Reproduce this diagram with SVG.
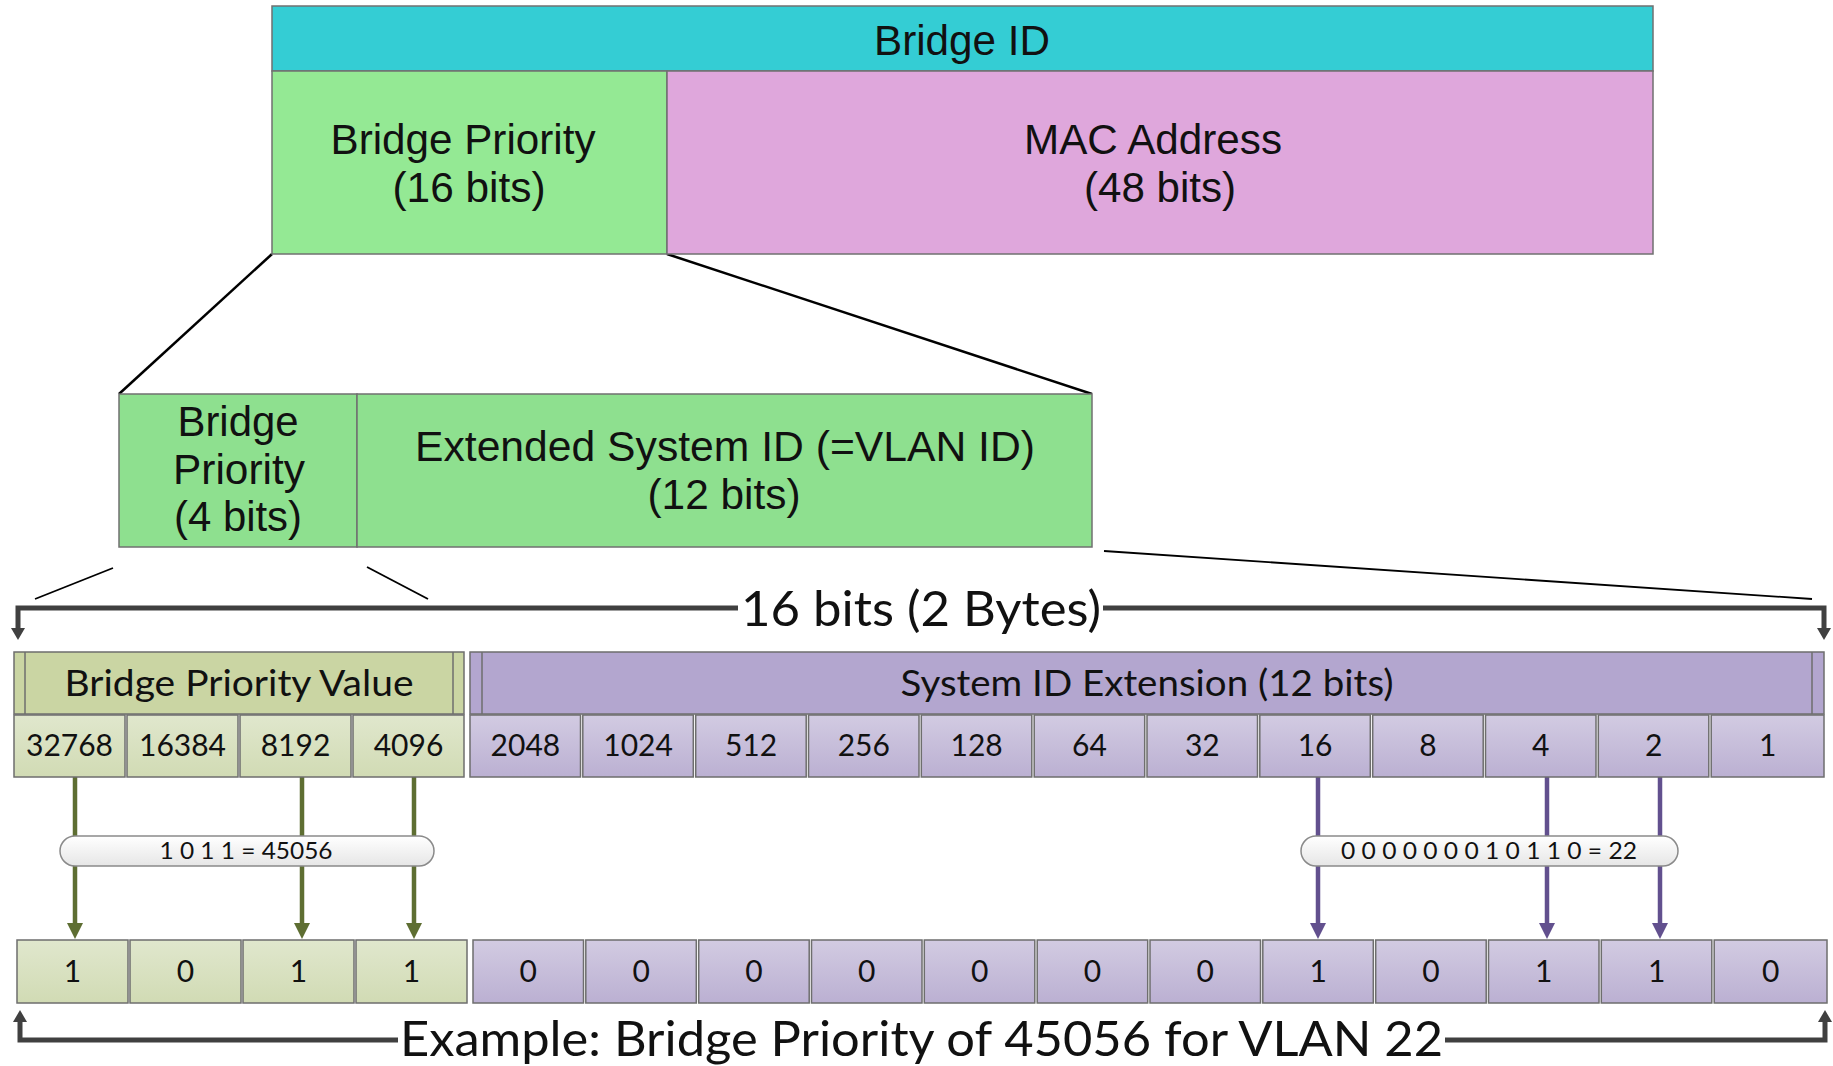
<svg xmlns="http://www.w3.org/2000/svg" width="1833" height="1066" viewBox="0 0 1833 1066">
<defs>
<style>
.box{stroke:#707070;stroke-width:1.5}
.t1{font-family:"Liberation Sans",Arial,sans-serif;font-size:42px;fill:#111;text-anchor:middle}
.t2{font-family:Lato,"Open Sans",sans-serif;fill:#111;text-anchor:middle}
.hdr{font-size:37px}
.num{font-size:30px}
.pilltxt{font-size:24px}
.big{font-size:48px}
.gcell{fill:url(#gg);stroke:#6e6e6e;stroke-width:1.5}
.pcell{fill:url(#pg);stroke:#6e6e6e;stroke-width:1.5}
.pill{fill:url(#wg);stroke:#8a8a8a;stroke-width:1.5}
.ga{stroke:#5e6e32;stroke-width:4.5;fill:none;marker-end:url(#ag)}
.gl{stroke:#5e6e32;stroke-width:4.5;fill:none}
.pa{stroke:#62508e;stroke-width:4.5;fill:none;marker-end:url(#ap)}
.bk{stroke:#404040;stroke-width:5;fill:none;marker-end:url(#ak)}
.zl{stroke:#000;fill:none}
.inner{stroke:#6e6e6e;stroke-width:1.5}
</style>
<linearGradient id="gg" x1="0" y1="0" x2="0" y2="1"><stop offset="0" stop-color="#e0e7cd"/><stop offset="1" stop-color="#d1dbb4"/></linearGradient>
<linearGradient id="pg" x1="0" y1="0" x2="0" y2="1"><stop offset="0" stop-color="#d2cbe2"/><stop offset="1" stop-color="#bbb0d2"/></linearGradient>
<linearGradient id="wg" x1="0" y1="0" x2="0" y2="1"><stop offset="0" stop-color="#ffffff"/><stop offset="1" stop-color="#e6e6e6"/></linearGradient>
<marker id="ag" markerUnits="userSpaceOnUse" markerWidth="17" markerHeight="16" refX="0" refY="8" orient="auto"><path d="M0,0 L16,8 L0,16 z" fill="#5e6e32"/></marker>
<marker id="ap" markerUnits="userSpaceOnUse" markerWidth="17" markerHeight="16" refX="0" refY="8" orient="auto"><path d="M0,0 L16,8 L0,16 z" fill="#62508e"/></marker>
<marker id="ak" markerUnits="userSpaceOnUse" markerWidth="13" markerHeight="14" refX="0" refY="7" orient="auto"><path d="M0,0 L12,7 L0,14 z" fill="#404040"/></marker>
</defs>
<rect width="1833" height="1066" fill="#fff"/>

<g id="connectors">
<line class="zl" stroke-width="2.5" x1="272" y1="254" x2="119" y2="394"/>
<line class="zl" stroke-width="2.5" x1="667" y1="254" x2="1092" y2="394"/>
<line class="zl" stroke-width="1.8" x1="113" y1="568" x2="35" y2="599"/>
<line class="zl" stroke-width="1.8" x1="367" y1="567" x2="428" y2="599"/>
<line class="zl" stroke-width="1.8" x1="1104" y1="551" x2="1812" y2="599"/>
<path class="bk" d="M738,608 H18 V628"/>
<path class="bk" d="M1103,608 H1824 V628"/>
<path class="bk" d="M398,1040 H20 V1022"/>
<path class="bk" d="M1445,1040 H1825 V1022"/>
<path class="ga" d="M75,777 V923"/>
<path class="ga" d="M302,777 V923"/>
<path class="ga" d="M414,777 V923"/>
<path class="pa" d="M1318,777 V923"/>
<path class="pa" d="M1547,777 V923"/>
<path class="pa" d="M1660,777 V923"/>
</g>

<g id="bridge-id">
<rect class="box" x="272" y="6" width="1381" height="65" fill="#34cdd4"/>
<text class="t1" x="962" y="55" textLength="176" lengthAdjust="spacingAndGlyphs">Bridge ID</text>
</g>
<g id="bridge-priority-16">
<rect class="box" x="272" y="71" width="395" height="183" fill="#94e994"/>
<text class="t1" x="463" y="154" textLength="265" lengthAdjust="spacingAndGlyphs">Bridge Priority</text>
<text class="t1" x="469" y="202" textLength="153" lengthAdjust="spacingAndGlyphs">(16 bits)</text>
</g>
<g id="mac-address">
<rect class="box" x="667" y="71" width="986" height="183" fill="#dfa7dc"/>
<text class="t1" x="1153" y="154" textLength="258" lengthAdjust="spacingAndGlyphs">MAC Address</text>
<text class="t1" x="1160" y="202" textLength="152" lengthAdjust="spacingAndGlyphs">(48 bits)</text>
</g>
<g id="bridge-priority-4">
<rect class="box" x="119" y="394" width="238" height="153" fill="#8ee08f"/>
<text class="t1" x="238" y="436" textLength="121" lengthAdjust="spacingAndGlyphs">Bridge</text>
<text class="t1" x="239" y="484" textLength="132" lengthAdjust="spacingAndGlyphs">Priority</text>
<text class="t1" x="238" y="531" textLength="128" lengthAdjust="spacingAndGlyphs">(4 bits)</text>
</g>
<g id="extended-system-id">
<rect class="box" x="357" y="394" width="735" height="153" fill="#8ee08f"/>
<text class="t1" x="725" y="461" textLength="620" lengthAdjust="spacingAndGlyphs">Extended System ID (=VLAN ID)</text>
<text class="t1" x="724" y="509" textLength="153" lengthAdjust="spacingAndGlyphs">(12 bits)</text>
</g>

<g id="label-16bits">
<text class="t2 big" x="921" y="626" textLength="360" lengthAdjust="spacingAndGlyphs">16 bits (2 Bytes)</text>
</g>

<g id="bridge-priority-value">
<rect x="14" y="652" width="450" height="62" fill="#cad5a3" stroke="#6e6e6e" stroke-width="1.5"/>
<line class="inner" x1="25" y1="652" x2="25" y2="714"/>
<line class="inner" x1="453" y1="652" x2="453" y2="714"/>
<text class="t2 hdr" x="239" y="696" textLength="349" lengthAdjust="spacingAndGlyphs">Bridge Priority Value</text>
</g>
<g id="system-id-extension">
<rect x="470" y="652" width="1354" height="62" fill="#b3a6cf" stroke="#6e6e6e" stroke-width="1.5"/>
<line class="inner" x1="482" y1="652" x2="482" y2="714"/>
<line class="inner" x1="1812" y1="652" x2="1812" y2="714"/>
<text class="t2 hdr" x="1147" y="696" textLength="493" lengthAdjust="spacingAndGlyphs">System ID Extension (12 bits)</text>
</g>

<g id="weights">
<g id="w32768"><rect class="gcell" x="14" y="715" width="111" height="62"/><text class="t2 num" x="69.5" y="756">32768</text></g>
<g id="w16384"><rect class="gcell" x="127" y="715" width="111" height="62"/><text class="t2 num" x="182.5" y="756">16384</text></g>
<g id="w8192"><rect class="gcell" x="240" y="715" width="111" height="62"/><text class="t2 num" x="295.5" y="756">8192</text></g>
<g id="w4096"><rect class="gcell" x="353" y="715" width="111" height="62"/><text class="t2 num" x="408.5" y="756">4096</text></g>
<g id="w2048"><rect class="pcell" x="470" y="715" width="110.5" height="62"/><text class="t2 num" x="525.4" y="756">2048</text></g>
<g id="w1024"><rect class="pcell" x="582.8" y="715" width="110.5" height="62"/><text class="t2 num" x="638.1" y="756">1024</text></g>
<g id="w512"><rect class="pcell" x="695.7" y="715" width="110.5" height="62"/><text class="t2 num" x="751" y="756">512</text></g>
<g id="w256"><rect class="pcell" x="808.5" y="715" width="110.5" height="62"/><text class="t2 num" x="863.8" y="756">256</text></g>
<g id="w128"><rect class="pcell" x="921.3" y="715" width="110.5" height="62"/><text class="t2 num" x="976.6" y="756">128</text></g>
<g id="w64"><rect class="pcell" x="1034.2" y="715" width="110.5" height="62"/><text class="t2 num" x="1089.5" y="756">64</text></g>
<g id="w32"><rect class="pcell" x="1147" y="715" width="110.5" height="62"/><text class="t2 num" x="1202.3" y="756">32</text></g>
<g id="w16"><rect class="pcell" x="1259.8" y="715" width="110.5" height="62"/><text class="t2 num" x="1315.1" y="756">16</text></g>
<g id="w8"><rect class="pcell" x="1372.7" y="715" width="110.5" height="62"/><text class="t2 num" x="1428" y="756">8</text></g>
<g id="w4"><rect class="pcell" x="1485.5" y="715" width="110.5" height="62"/><text class="t2 num" x="1540.8" y="756">4</text></g>
<g id="w2"><rect class="pcell" x="1598.3" y="715" width="110.5" height="62"/><text class="t2 num" x="1653.6" y="756">2</text></g>
<g id="w1"><rect class="pcell" x="1711.2" y="715" width="112.8" height="62"/><text class="t2 num" x="1767.6" y="756">1</text></g>
</g>

<g id="pill-priority">
<rect class="pill" x="60" y="836" width="374" height="30" rx="15"/>
<text class="t2 pilltxt" x="246" y="859" textLength="173" lengthAdjust="spacingAndGlyphs">1 0 1 1 = 45056</text>
</g>
<g id="pill-vlan">
<rect class="pill" x="1301" y="836" width="377" height="30" rx="15"/>
<text class="t2 pilltxt" x="1489" y="859" textLength="296" lengthAdjust="spacingAndGlyphs">0 0 0 0 0 0 0 1 0 1 1 0 = 22</text>
</g>

<g id="bits">
<g id="b15"><rect class="gcell" x="17" y="940" width="111" height="63"/><text class="t2 num" x="72.5" y="982">1</text></g>
<g id="b14"><rect class="gcell" x="130" y="940" width="111" height="63"/><text class="t2 num" x="185.5" y="982">0</text></g>
<g id="b13"><rect class="gcell" x="243" y="940" width="111" height="63"/><text class="t2 num" x="298.5" y="982">1</text></g>
<g id="b12"><rect class="gcell" x="356" y="940" width="111" height="63"/><text class="t2 num" x="411.5" y="982">1</text></g>
<g id="b11"><rect class="pcell" x="473" y="940" width="110.5" height="63"/><text class="t2 num" x="528.3" y="982">0</text></g>
<g id="b10"><rect class="pcell" x="585.8" y="940" width="110.5" height="63"/><text class="t2 num" x="641.1" y="982">0</text></g>
<g id="b9"><rect class="pcell" x="698.7" y="940" width="110.5" height="63"/><text class="t2 num" x="754" y="982">0</text></g>
<g id="b8"><rect class="pcell" x="811.5" y="940" width="110.5" height="63"/><text class="t2 num" x="866.8" y="982">0</text></g>
<g id="b7"><rect class="pcell" x="924.3" y="940" width="110.5" height="63"/><text class="t2 num" x="979.6" y="982">0</text></g>
<g id="b6"><rect class="pcell" x="1037.2" y="940" width="110.5" height="63"/><text class="t2 num" x="1092.5" y="982">0</text></g>
<g id="b5"><rect class="pcell" x="1150" y="940" width="110.5" height="63"/><text class="t2 num" x="1205.3" y="982">0</text></g>
<g id="b4"><rect class="pcell" x="1262.8" y="940" width="110.5" height="63"/><text class="t2 num" x="1318.1" y="982">1</text></g>
<g id="b3"><rect class="pcell" x="1375.7" y="940" width="110.5" height="63"/><text class="t2 num" x="1431" y="982">0</text></g>
<g id="b2"><rect class="pcell" x="1488.5" y="940" width="110.5" height="63"/><text class="t2 num" x="1543.8" y="982">1</text></g>
<g id="b1"><rect class="pcell" x="1601.3" y="940" width="110.5" height="63"/><text class="t2 num" x="1656.6" y="982">1</text></g>
<g id="b0"><rect class="pcell" x="1714.2" y="940" width="112.8" height="63"/><text class="t2 num" x="1770.6" y="982">0</text></g>
</g>

<g id="label-example">
<text class="t2 big" x="921.5" y="1056" textLength="1043" lengthAdjust="spacingAndGlyphs">Example: Bridge Priority of 45056 for VLAN 22</text>
</g>
</svg>
